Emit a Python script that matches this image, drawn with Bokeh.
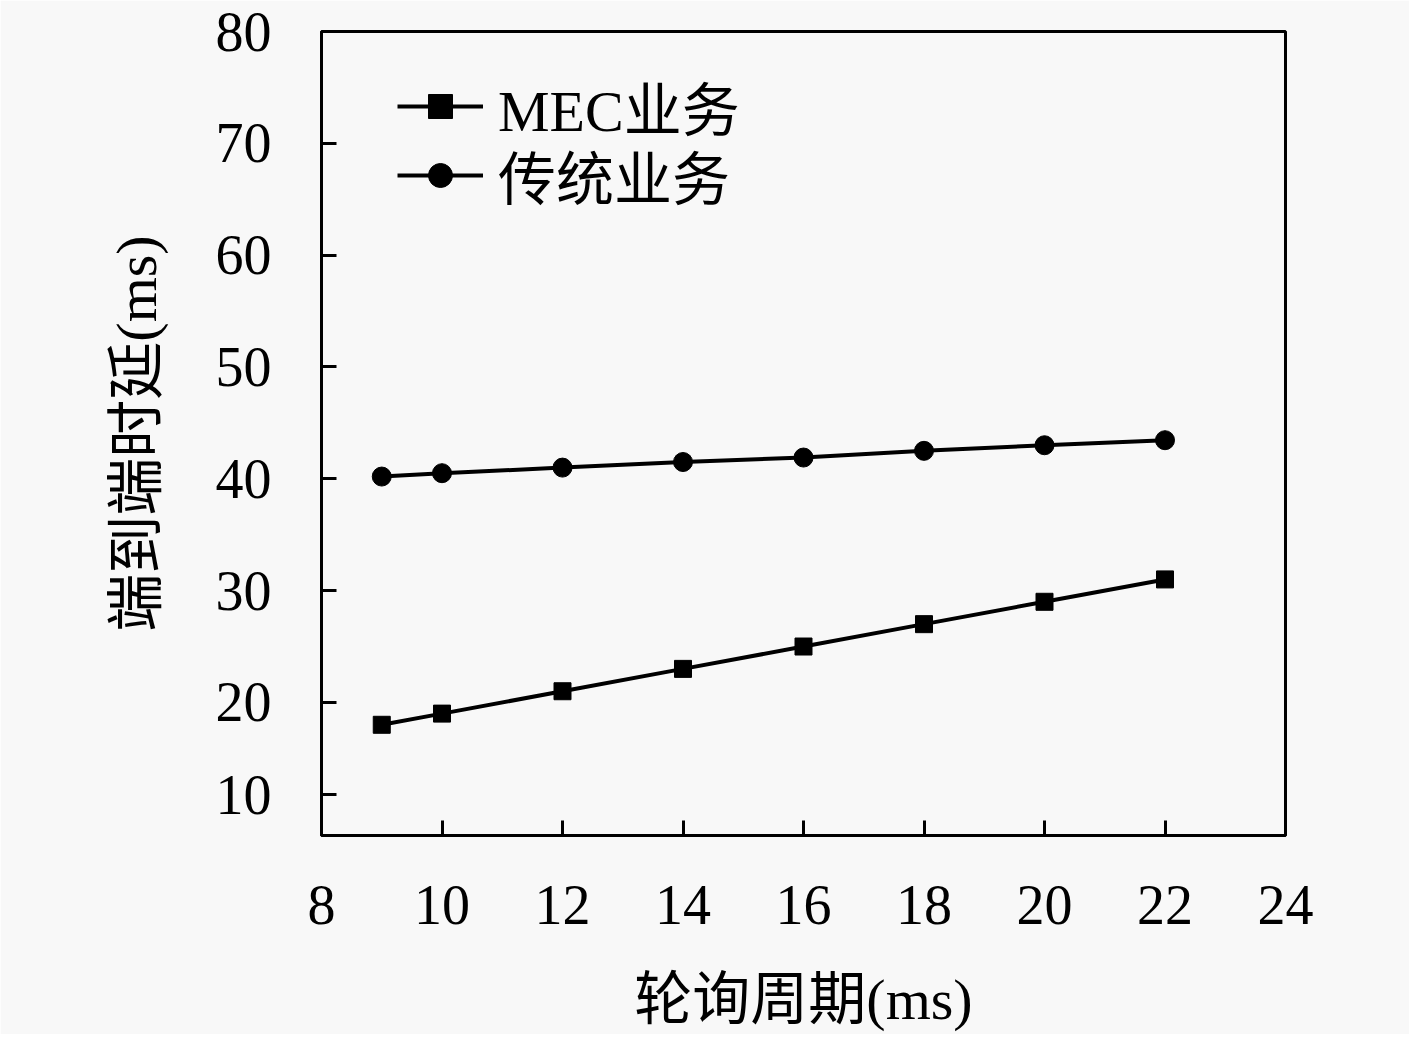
from bokeh.plotting import figure
from bokeh.models import FixedTicker, Legend, LegendItem
from bokeh.embed import file_html
from bokeh.resources import INLINE

# Data
polling_period = [9, 10, 12, 14, 16, 18, 20, 22]
mec_delay = [18.0, 19.0, 21.0, 23.0, 25.0, 27.0, 29.0, 31.0]
trad_delay = [40.2, 40.5, 41.0, 41.5, 41.9, 42.5, 43.0, 43.45]

x_ticks = [8, 10, 12, 14, 16, 18, 20, 22, 24]
y_tick_positions = [11.75, 20, 30, 40, 50, 60, 70, 80]
y_tick_labels = ["10", "20", "30", "40", "50", "60", "70", "80"]

series_names = ["MEC业务", "传统业务"]
x_title = "轮询周期(ms)"
y_title = "端到端时延(ms)"

FONT = "'Liberation Serif', 'Noto Sans CJK SC', serif"
BG = "#f8f8f8"

p = figure(width=1409, height=1034, x_range=(8, 24), y_range=(8.1, 80),
           output_backend="svg", toolbar_location=None,
           min_border_left=321, min_border_right=124,
           min_border_top=31, min_border_bottom=198)
p.background_fill_color = BG
p.border_fill_color = BG
p.grid.visible = False
p.outline_line_color = "black"
p.outline_line_width = 3

# axes
p.xaxis.ticker = FixedTicker(ticks=x_ticks)
p.yaxis.ticker = FixedTicker(ticks=y_tick_positions)
p.yaxis.major_label_overrides = {pos: lab for pos, lab in zip(y_tick_positions, y_tick_labels)}
for ax in (p.xaxis[0], p.yaxis[0]):
    ax.axis_line_width = 3
    ax.axis_line_color = "black"
    ax.major_tick_in = 15
    ax.major_tick_out = 0
    ax.major_tick_line_width = 3
    ax.minor_tick_line_color = None
    ax.major_label_text_font = FONT
    ax.major_label_text_font_size = "56px"
    ax.major_label_text_color = "black"
    ax.axis_label_text_font = FONT
    ax.axis_label_text_font_size = "58px"
    ax.axis_label_text_font_style = "normal"
    ax.axis_label_text_color = "black"
p.xaxis.major_label_standoff = 50
p.yaxis.major_label_standoff = 50
p.xaxis.axis_label_standoff = 40
p.yaxis.axis_label_standoff = 44
p.xaxis.axis_label = x_title
p.yaxis.axis_label = y_title

# series
l1 = p.line(polling_period, mec_delay, line_color="black", line_width=4)
s1 = p.scatter(polling_period, mec_delay, marker="square", size=17,
               fill_color="black", line_color="black")
l2 = p.line(polling_period, trad_delay, line_color="black", line_width=4)
s2 = p.scatter(polling_period, trad_delay, marker="circle", size=19,
               fill_color="black", line_color="black")

legend_bottoms = [687, 618]
for name, rends, yb in zip(series_names, [[l1, s1], [l2, s2]], legend_bottoms):
    lg = Legend(items=[LegendItem(label=name, renderers=rends)], location=(76, yb))
    lg.background_fill_alpha = 0
    lg.border_line_color = None
    lg.glyph_width = 86
    lg.glyph_height = 60
    lg.label_height = 60
    lg.padding = 0
    lg.margin = 0
    lg.label_standoff = 15
    lg.label_text_font = FONT
    lg.label_text_font_size = "58px"
    lg.label_text_color = "black"
    p.add_layout(lg, "center")

open("out.html", "w").write(file_html(p, INLINE))
